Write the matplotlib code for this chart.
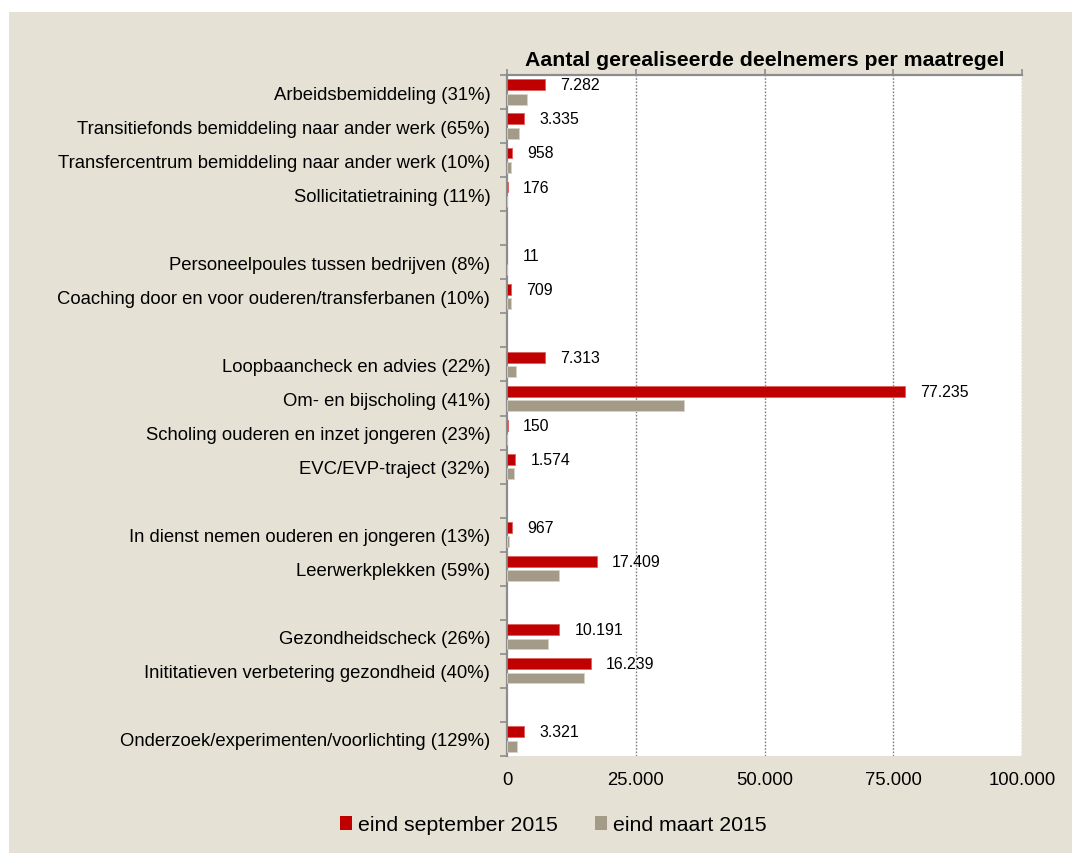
import numpy as np
import matplotlib
matplotlib.use("Agg")
import matplotlib.pyplot as plt
from matplotlib.patches import Rectangle, Patch
from matplotlib.ticker import FixedLocator

plt.rcParams['font.family'] = ['Liberation Sans', 'DejaVu Sans']

categories = [
    "Arbeidsbemiddeling (31%)",
    "Transitiefonds bemiddeling naar ander werk (65%)",
    "Transfercentrum bemiddeling naar ander werk (10%)",
    "Sollicitatietraining (11%)",
    "",
    "Personeelpoules tussen bedrijven (8%)",
    "Coaching door en voor ouderen/transferbanen (10%)",
    "",
    "Loopbaancheck en advies (22%)",
    "Om- en bijscholing (41%)",
    "Scholing ouderen en inzet jongeren (23%)",
    "EVC/EVP-traject (32%)",
    "",
    "In dienst nemen ouderen en jongeren (13%)",
    "Leerwerkplekken (59%)",
    "",
    "Gezondheidscheck (26%)",
    "Inititatieven verbetering gezondheid (40%)",
    "",
    "Onderzoek/experimenten/voorlichting (129%)",
]
sep2015 = [7282, 3335, 958, 176, np.nan, 11, 709, np.nan, 7313, 77235, 150, 1574,
           np.nan, 967, 17409, np.nan, 10191, 16239, np.nan, 3321]
mrt2015 = [3800, 2400, 730, 40, np.nan, 0, 730, np.nan, 1670, 34300, 30, 1270,
           np.nan, 470, 10100, np.nan, 7870, 14900, np.nan, 1870]
series_names = ["eind september 2015", "eind maart 2015"]
xticks = [0, 25000, 50000, 75000, 100000]
xticklabels = ["0", "25.000", "50.000", "75.000", "100.000"]
title = "Aantal gerealiseerde deelnemers per maatregel"

RED = "#C00000"
GRAY = "#A39A88"
BEIGE = "#E5E2D5"
AXG = "#8C8C8C"

W, H = 1072, 854
fig = plt.figure(figsize=(W / 100, H / 100), dpi=100)
fig.patch.set_facecolor("white")
fig.add_artist(Rectangle((9 / W, 0), 1 - 9 / W, 1 - 13 / H, transform=fig.transFigure,
                         facecolor=BEIGE, edgecolor="none", zorder=0))

left, right, top, bottom = 507, 1022, 76, 757
ax = fig.add_axes([left / W, 1 - bottom / H, (right - left) / W, (bottom - top) / H])
ax.set_facecolor("white")

y = np.arange(len(categories))
bh = 0.32
off = 0.21
ax.barh(y - off, sep2015, height=bh, color=RED, edgecolor="#E06060", linewidth=0.6, zorder=3)
ax.barh(y + off, mrt2015, height=bh, color=GRAY, edgecolor="#D8D2C6", linewidth=0.6, zorder=3)

for yi, v in zip(y, sep2015):
    if np.isnan(v):
        continue
    lab = f"{int(v):,}".replace(",", ".")
    ax.annotate(lab, (v, yi - off), xytext=(11, 0), textcoords="offset points",
                ha="left", va="center", fontsize=11.4, color="black", zorder=4)

ax.set_xlim(0, 100000)
ax.set_ylim(len(categories) - 0.5, -0.5)

ax.set_xticks(xticks)
ax.set_xticklabels(xticklabels, fontsize=13.3)
ax.tick_params(axis="x", top=True, bottom=False, labeltop=False, labelbottom=True,
               length=4, width=1.2, color=AXG, direction="out", pad=7)

ax.set_yticks(y)
ax.set_yticklabels(categories, fontsize=13.3)
ax.yaxis.set_minor_locator(FixedLocator(np.arange(-0.5, len(categories), 1.0)))
ax.tick_params(axis="y", which="major", length=0, pad=12)
ax.tick_params(axis="y", which="minor", length=5, width=1.2, color=AXG, direction="out")

for xv in xticks[1:]:
    ax.axvline(xv, color="#7F7F7F", linestyle=(0, (1.2, 1.2)), linewidth=1.0, zorder=1)

for s in ["right", "bottom"]:
    ax.spines[s].set_visible(False)
for s in ["left", "top"]:
    ax.spines[s].set_color(AXG)
    ax.spines[s].set_linewidth(1.6)

fig.text((left + right) / 2 / W, 1 - 60 / H, title, ha="center", va="center",
         fontsize=15.3, fontweight="bold")

handles = [Patch(facecolor=RED, edgecolor="none"), Patch(facecolor=GRAY, edgecolor="none")]
fig.legend(handles, series_names, loc="center", bbox_to_anchor=(553 / W, 1 - 826 / H),
           ncol=2, frameon=False, fontsize=15.3, handlelength=0.6, handleheight=0.6,
           handletextpad=0.25, columnspacing=1.75)

fig.savefig("out.png", dpi=100, facecolor=fig.get_facecolor())
